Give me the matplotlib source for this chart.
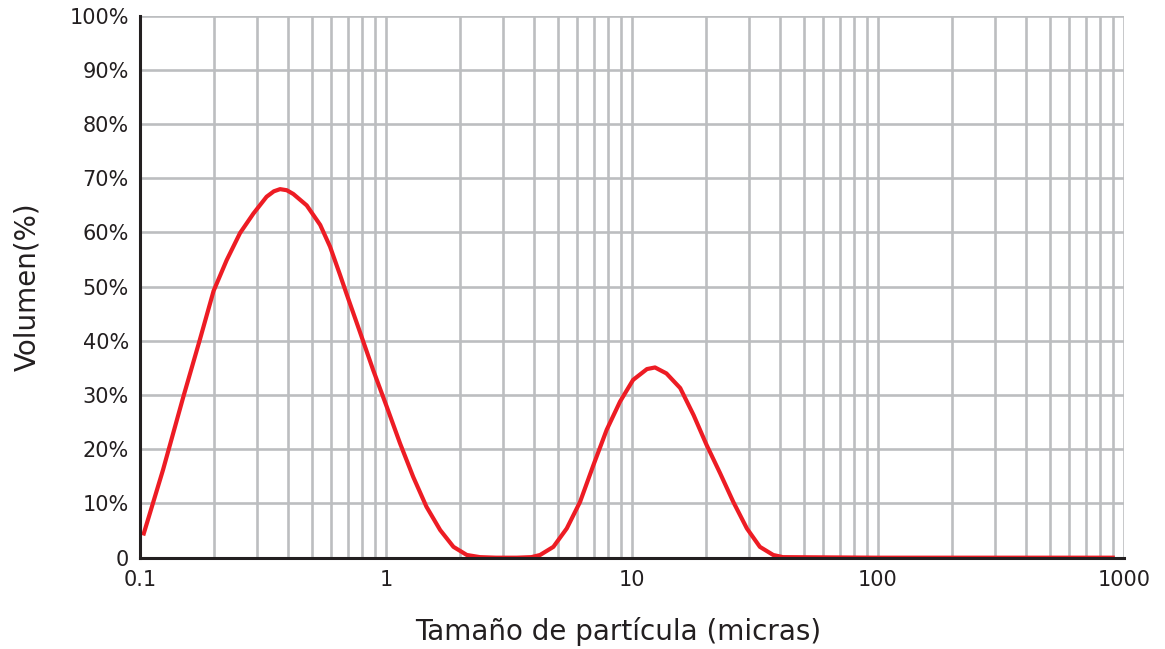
import numpy as np
import matplotlib.pyplot as plt
from matplotlib.ticker import LogLocator, NullFormatter

# particle size (micras) vs volume (%)
size_um = [0.103, 0.124, 0.150, 0.157, 0.175, 0.199, 0.225, 0.255, 0.289, 0.327,
           0.350, 0.371, 0.395, 0.420, 0.476, 0.540, 0.592, 0.650, 0.692, 0.784,
           0.887, 1.006, 1.14, 1.29, 1.46, 1.66, 1.88, 2.13, 2.41, 2.8,
           3.4, 3.9, 4.23, 4.79, 5.43, 6.15, 6.97, 7.89, 8.94, 10.1,
           11.5, 12.4, 13.8, 15.7, 17.8, 20.1, 22.8, 25.8, 29.3, 33.1,
           37.5, 41.0, 100, 918]
volume_pct = [4.1, 16.2, 29.7, 32.8, 40.2, 49.2, 54.9, 59.9, 63.5, 66.6,
              67.6, 68.0, 67.8, 67.1, 65.0, 61.4, 57.4, 52.2, 48.6, 41.6,
              34.6, 27.9, 21.1, 14.9, 9.4, 5.1, 2.0, 0.5, 0.1, 0.0,
              0.0, 0.1, 0.5, 2.0, 5.4, 10.3, 17.1, 23.6, 28.8, 32.8,
              34.8, 35.1, 34.0, 31.3, 26.3, 20.8, 15.6, 10.3, 5.4, 2.0,
              0.5, 0.1, 0.0, 0.0]

y_ticks = [0, 10, 20, 30, 40, 50, 60, 70, 80, 90, 100]
y_labels = ["0", "10%", "20%", "30%", "40%", "50%", "60%", "70%", "80%", "90%", "100%"]
x_ticks = [0.1, 1, 10, 100, 1000]
x_labels = ["0.1", "1", "10", "100", "1000"]

text_col = "#231f20"
grid_col = "#bcbec0"

fig = plt.figure(figsize=(11.65, 6.49), dpi=100)
ax = fig.add_axes([0.1202, 0.1407, 0.8446, 0.8351])

ax.plot(size_um, volume_pct, color="#ed1c24", linewidth=3.0, zorder=3,
        solid_capstyle="butt", solid_joinstyle="round")

ax.set_xscale("log")
ax.set_xlim(0.1, 1000)
ax.set_ylim(0, 100)

ax.xaxis.set_major_locator(LogLocator(base=10))
ax.xaxis.set_minor_locator(LogLocator(base=10, subs=np.arange(2, 10)))
ax.xaxis.set_minor_formatter(NullFormatter())
ax.set_xticks(x_ticks)
ax.set_xticklabels(x_labels)
ax.set_yticks(y_ticks)
ax.set_yticklabels(y_labels)

ax.grid(which="both", axis="both", color=grid_col, linewidth=1.9, zorder=0)
ax.set_axisbelow(True)

for s in ["top", "right"]:
    ax.spines[s].set_visible(False)
for s in ["left", "bottom"]:
    ax.spines[s].set_color(text_col)
    ax.spines[s].set_linewidth(2.2)
    ax.spines[s].set_zorder(4)

ax.tick_params(which="both", length=0, labelcolor=text_col, labelsize=15)
ax.tick_params(axis="x", pad=9)
ax.tick_params(axis="y", pad=8)

ax.set_xlabel("Tamaño de partícula (micras)", fontsize=20, color=text_col)
ax.set_ylabel("Volumen(%)", fontsize=20, color=text_col)
ax.xaxis.set_label_coords(0.486, -0.109)
ax.yaxis.set_label_coords(-0.100, 0.5)

fig.savefig("out.png", dpi=100)
